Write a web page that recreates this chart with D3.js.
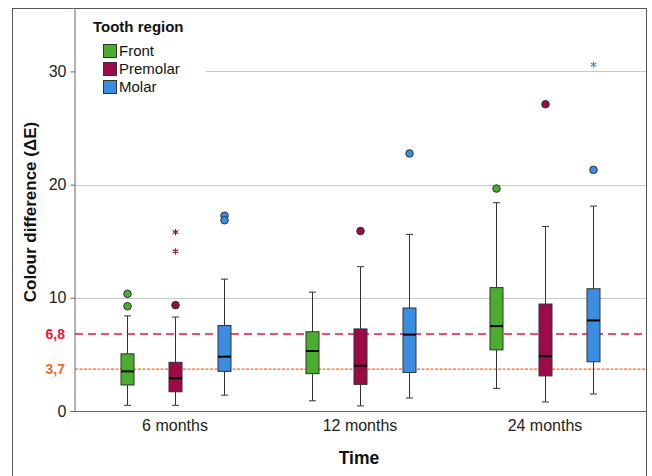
<!DOCTYPE html>
<html>
<head>
<meta charset="utf-8">
<script src="https://cdn.jsdelivr.net/npm/d3@7"></script>
<style>
  body { margin: 0; background: #fff; }
  svg text { font-family: "Liberation Sans", Arial, sans-serif; }
</style>
</head>
<body>
<div id="chart"></div>
<script>
// Categories
const times = ['6 months', '12 months', '24 months']
const regions = ['Front', 'Premolar', 'Molar']
const regionColors = ['#4aad2e', '#9c0a47', '#3a8de1']

// Box stats per region, one entry per time: [whiskerLow, q1, median, q3, whiskerHigh]
const frontStats = [[0.5, 2.3, 3.5, 5.05, 8.4], [0.9, 3.3, 5.3, 7.0, 10.5], [2.0, 5.4, 7.5, 10.9, 18.4]]
const premolarStats = [[0.5, 1.7, 2.9, 4.3, 8.3], [0.45, 2.35, 4.0, 7.25, 12.75], [0.8, 3.1, 4.85, 9.45, 16.3]]
const molarStats = [[1.4, 3.5, 4.8, 7.55, 11.65], [1.15, 3.4, 6.75, 9.1, 15.6], [1.5, 4.35, 8.0, 10.8, 18.1]]

// Outliers (circles) and extremes (stars)
const frontOutliers = [[10.35, 9.25], [], [19.65]]
const premolarOutliers = [[9.35], [15.9], [27.1]]
const molarOutliers = [[17.25, 16.85], [22.75], [21.3]]
const premolarExtremes = [[15.8, 14.1], [], []]
const molarExtremes = [[], [], [30.6]]

// Reference lines
const refValues = [6.8, 3.7]
const refLabels = ['6,8', '3,7']
const refColors = ['#e8173a', '#f36a1c']

const yTicks = [0, 10, 20, 30]

const statsByRegion = [frontStats, premolarStats, molarStats]
const outliersByRegion = [frontOutliers, premolarOutliers, molarOutliers]
const extremesByRegion = [[[], [], []], premolarExtremes, molarExtremes]

const width = 652, height = 476
const plot = {left: 74, right: 646, top: 8, bottom: 411}
const font = '"Liberation Sans", Arial, sans-serif'

let svg = d3.select('#chart').append('svg')
    .attr('width', width)
    .attr('height', height)

// Scales
let x = d3.scalePoint()
    .domain(times)
    .range([plot.left, plot.right])
    .padding(0.546)

let xOffset = d3.scalePoint()
    .domain(regions)
    .range([-48.5, 48.5])

let y = d3.scaleLinear()
    .domain([0, 35.6])
    .range([plot.bottom, plot.top])

let color = d3.scaleOrdinal().domain(regions).range(regionColors)

// Outer frame
svg.append('rect')
    .attr('x', 12.5).attr('y', 8.5)
    .attr('width', 634).attr('height', 480)
    .attr('fill', 'none')
    .attr('stroke', '#555')

// Grid lines
svg.append('g').selectAll('line')
    .data(yTicks.filter(d => d > 0))
    .join('line')
    .attr('x1', plot.left).attr('x2', plot.right)
    .attr('y1', d => Math.round(y(d)) + 0.5)
    .attr('y2', d => Math.round(y(d)) + 0.5)
    .attr('stroke', '#c8c8c8')

// Legend background hides part of the top grid line
svg.append('rect')
    .attr('x', plot.left + 2).attr('y', 9)
    .attr('width', 130).attr('height', 86)
    .attr('fill', '#fff')

// Y axis
let yAxis = svg.append('g')
    .attr('transform', `translate(${plot.left + 0.5},0)`)
    .call(d3.axisLeft(y).tickValues(yTicks).tickSize(4).tickPadding(4))
yAxis.select('.domain').attr('stroke', '#666')
yAxis.selectAll('.tick line').attr('stroke', '#666')
yAxis.selectAll('.tick text').attr('font-size', 16).attr('fill', '#222')
    .attr('font-family', font)

// X axis line
svg.append('line')
    .attr('x1', plot.left).attr('x2', plot.right)
    .attr('y1', plot.bottom + 0.5).attr('y2', plot.bottom + 0.5)
    .attr('stroke', '#666')

// Category labels
svg.append('g').selectAll('text')
    .data(times)
    .join('text')
    .attr('x', d => x(d))
    .attr('y', 431)
    .attr('text-anchor', 'middle')
    .attr('font-size', 16)
    .attr('fill', '#222')
    .text(d => d)

// Reference lines
svg.append('line')
    .attr('x1', plot.left + 1).attr('x2', plot.right)
    .attr('y1', y(refValues[0])).attr('y2', y(refValues[0]))
    .attr('stroke', refColors[0])
    .attr('stroke-width', 1.5)
    .attr('stroke-dasharray', '8,5')
svg.append('line')
    .attr('x1', plot.left + 1).attr('x2', plot.right)
    .attr('y1', y(refValues[1])).attr('y2', y(refValues[1]))
    .attr('stroke', refColors[1])
    .attr('stroke-width', 1.3)
    .attr('stroke-dasharray', '3,1.5')

svg.append('g').selectAll('text')
    .data(refValues)
    .join('text')
    .attr('x', 65)
    .attr('y', d => y(d) + 5)
    .attr('text-anchor', 'end')
    .attr('font-size', 14)
    .attr('font-weight', 'bold')
    .attr('fill', (d, i) => refColors[i])
    .text((d, i) => refLabels[i])

// Build box data
let boxes = []
regions.forEach((r, ri) => {
    times.forEach((t, ti) => {
        let s = statsByRegion[ri][ti]
        boxes.push({
            region: r, time: t,
            lo: s[0], q1: s[1], med: s[2], q3: s[3], hi: s[4],
            outliers: outliersByRegion[ri][ti],
            extremes: extremesByRegion[ri][ti]
        })
    })
})

const boxW = 13, capW = 7
let g = svg.append('g').selectAll('g')
    .data(boxes)
    .join('g')
    .attr('transform', d => `translate(${Math.round(x(d.time) + xOffset(d.region)) + 0.5},0)`)

// Whiskers
g.append('line')
    .attr('x1', 0).attr('x2', 0)
    .attr('y1', d => y(d.hi)).attr('y2', d => y(d.lo))
    .attr('stroke', '#333')
g.append('line')
    .attr('x1', -capW / 2).attr('x2', capW / 2)
    .attr('y1', d => y(d.hi)).attr('y2', d => y(d.hi))
    .attr('stroke', '#333')
g.append('line')
    .attr('x1', -capW / 2).attr('x2', capW / 2)
    .attr('y1', d => y(d.lo)).attr('y2', d => y(d.lo))
    .attr('stroke', '#333')

// Boxes
g.append('rect')
    .attr('x', -boxW / 2)
    .attr('y', d => y(d.q3))
    .attr('width', boxW)
    .attr('height', d => y(d.q1) - y(d.q3))
    .attr('fill', d => color(d.region))
    .attr('stroke', '#333')

// Medians
g.append('line')
    .attr('x1', -boxW / 2).attr('x2', boxW / 2)
    .attr('y1', d => y(d.med)).attr('y2', d => y(d.med))
    .attr('stroke', '#000')
    .attr('stroke-width', 2)

// Outlier circles
g.selectAll('circle')
    .data(d => d.outliers.map(v => ({v: v, region: d.region})))
    .join('circle')
    .attr('cx', 0)
    .attr('cy', d => y(d.v))
    .attr('r', 3.8)
    .attr('fill', d => color(d.region))
    .attr('stroke', '#333')

// Extreme stars
g.selectAll('path.star')
    .data(d => d.extremes.map(v => ({v: v, region: d.region})))
    .join('path')
    .attr('class', 'star')
    .attr('transform', d => `translate(0,${y(d.v)})`)
    .attr('d', d3.symbol(d3.symbolAsterisk, 28))
    .attr('fill', 'none')
    .attr('stroke', d => color(d.region))
    .attr('stroke-width', 1.1)

// Legend
let legend = svg.append('g')
legend.append('text')
    .attr('x', 93).attr('y', 32)
    .attr('font-size', 15)
    .attr('font-weight', 'bold')
    .attr('fill', '#111')
    .text('Tooth region')

let items = legend.selectAll('g.item')
    .data(regions)
    .join('g')
    .attr('class', 'item')
    .attr('transform', (d, i) => `translate(103,${44 + i * 18})`)
items.append('rect')
    .attr('x', 0.5).attr('y', 0.5)
    .attr('width', 13).attr('height', 13)
    .attr('fill', d => color(d))
    .attr('stroke', '#333')
items.append('text')
    .attr('x', 16).attr('y', 12)
    .attr('font-size', 15)
    .attr('fill', '#111')
    .text(d => d)

// Axis titles
svg.append('text')
    .attr('transform', 'translate(36,212) rotate(-90)')
    .attr('text-anchor', 'middle')
    .attr('font-size', 17)
    .attr('font-weight', 'bold')
    .attr('fill', '#111')
    .text('Colour difference (ΔE)')

svg.append('text')
    .attr('x', 359)
    .attr('y', 464)
    .attr('text-anchor', 'middle')
    .attr('font-size', 17.5)
    .attr('font-weight', 'bold')
    .attr('fill', '#111')
    .text('Time')
</script>
</body>
</html>
